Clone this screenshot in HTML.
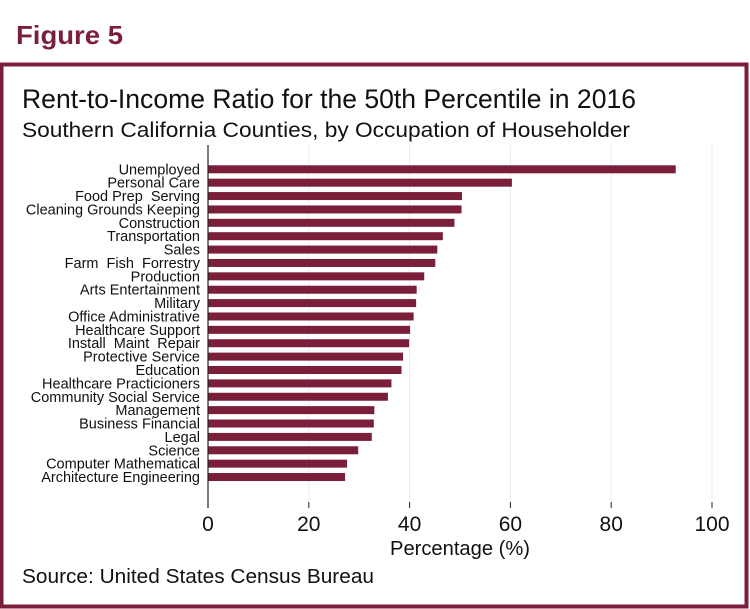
<!DOCTYPE html>
<html><head><meta charset="utf-8"><style>
html,body{margin:0;padding:0;background:#fff;}
svg{display:block;font-family:"Liberation Sans",Arial,sans-serif;}
text{white-space:pre;}
</style></head><body>
<svg id="chart" width="750" height="609" viewBox="0 0 750 609" xmlns="http://www.w3.org/2000/svg">
<text x="16" y="44" font-size="26" font-weight="bold" fill="#7b1e3a" textLength="107" lengthAdjust="spacingAndGlyphs">Figure 5</text>
<rect x="1.5" y="64.5" width="745" height="542" fill="none" stroke="#7b1e3a" stroke-width="4"/>
<text x="22" y="108" font-size="27" fill="#111" textLength="614" lengthAdjust="spacingAndGlyphs">Rent-to-Income Ratio for the 50th Percentile in 2016</text>
<text x="22" y="137" font-size="21" fill="#111" textLength="608" lengthAdjust="spacingAndGlyphs">Southern California Counties, by Occupation of Householder</text>
<g id="grid"></g>
<g id="bars"></g>
<g id="labels"></g>
<g id="xaxis"></g>
<text x="460" y="555" font-size="20" fill="#111" text-anchor="middle" textLength="140" lengthAdjust="spacingAndGlyphs">Percentage (%)</text>
<text x="22" y="583" font-size="20" fill="#111" textLength="352" lengthAdjust="spacingAndGlyphs">Source: United States Census Bureau</text>
</svg>
<script>
const categories = ["Unemployed","Personal Care","Food Prep  Serving","Cleaning Grounds Keeping","Construction","Transportation","Sales","Farm  Fish  Forrestry","Production","Arts Entertainment","Military","Office Administrative","Healthcare Support","Install  Maint  Repair","Protective Service","Education","Healthcare Practicioners","Community Social Service","Management","Business Financial","Legal","Science","Computer Mathematical","Architecture Engineering"];
const values = [92.8,60.3,50.4,50.3,48.9,46.6,45.5,45.1,42.9,41.4,41.3,40.8,40.1,39.9,38.7,38.4,36.4,35.7,33.0,32.9,32.5,29.8,27.6,27.2];
const xTicks = [0,20,40,60,80,100];
const tickLabels = ["0","20","40","60","80","100"];

const NS = "http://www.w3.org/2000/svg";
const x0 = 208, x1 = 712, xMax = 100;
const xScale = v => x0 + (v / xMax) * (x1 - x0);
const yTop = 169.3, yStep = 13.38, barH = 8;
const yScale = i => yTop + i * yStep;
function mk(tag, attrs){const e=document.createElementNS(NS,tag);for(const k in attrs)e.setAttribute(k,attrs[k]);return e;}
const grid=document.getElementById('grid'), bars=document.getElementById('bars'), labels=document.getElementById('labels'), xaxis=document.getElementById('xaxis');

xTicks.forEach((t,i)=>{
  if(t!==0){
    const g=mk('line',{x1:xScale(t),x2:xScale(t),y1:145,y2:502,stroke:'#e4eeee','stroke-width':1});
    
    
    grid.appendChild(g);
  }
  const tk=mk('line',{x1:xScale(t),x2:xScale(t),y1:502,y2:508,stroke:'#222','stroke-width':1});
  
  
  xaxis.appendChild(tk);
  const tl=mk('text',{x:xScale(t),y:531,'font-size':21,'text-anchor':'middle',fill:'#111'});
  tl.textContent=tickLabels[i];
  
  
  xaxis.appendChild(tl);
});
const ax=mk('line',{x1:x0,x2:x0,y1:145,y2:508,stroke:'#222','stroke-width':1.2});


xaxis.appendChild(ax);

categories.forEach((c,i)=>{
  const y=yScale(i);
  const r=mk('rect',{x:x0+0.5,y:y-barH/2,width:xScale(values[i])-x0-0.5,height:barH,fill:'#7b1e3a'});
  
  
  bars.appendChild(r);
  const t=mk('text',{x:200,y:y+5,'font-size':14.5,'text-anchor':'end',fill:'#111'});
  t.textContent=c;
  
  
  labels.appendChild(t);
});
</script>
</body></html>
